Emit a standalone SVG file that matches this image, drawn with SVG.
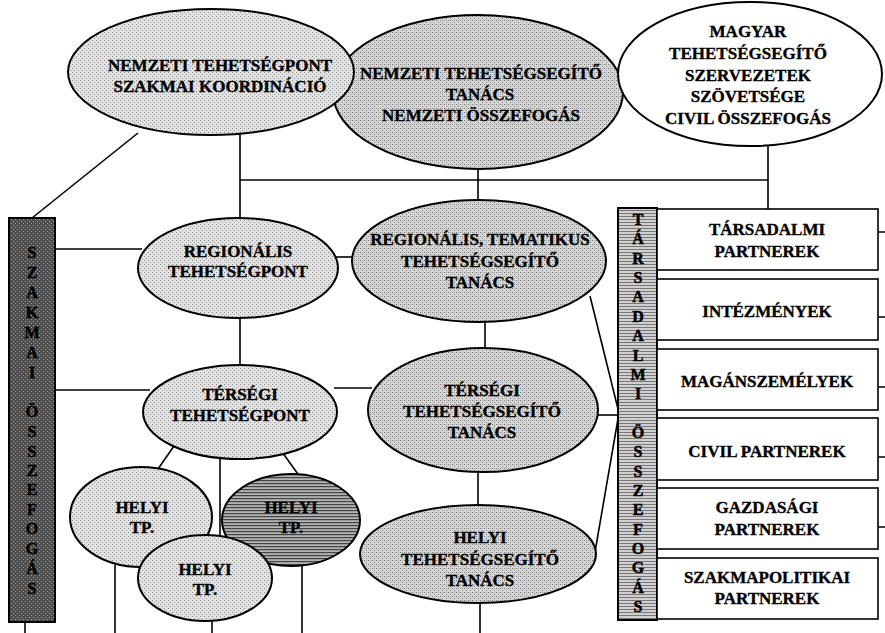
<svg xmlns="http://www.w3.org/2000/svg" width="885" height="633" viewBox="0 0 885 633">
<defs>
<pattern id="stipL" width="4" height="4" patternUnits="userSpaceOnUse"><rect width="4" height="4" fill="#e2e2e2"/><rect x="0" y="0" width="1" height="1" fill="#8a8a8a"/><rect x="2" y="2" width="1" height="1" fill="#9a9a9a"/></pattern>
<pattern id="stipD" width="4" height="4" patternUnits="userSpaceOnUse"><rect width="4" height="4" fill="#d6d6d6"/><rect x="0" y="0" width="1" height="1" fill="#777"/><rect x="2" y="2" width="1" height="1" fill="#888"/><rect x="2" y="0" width="1" height="1" fill="#aaa"/></pattern>
<pattern id="hatchD" width="4" height="3" patternUnits="userSpaceOnUse"><rect width="4" height="3" fill="#b4b4b4"/><rect x="0" y="0" width="4" height="1.2" fill="#444"/></pattern>
<pattern id="hatchBar" width="4" height="3" patternUnits="userSpaceOnUse"><rect width="4" height="3" fill="#d0d0d0"/><rect x="0" y="0" width="4" height="1" fill="#777"/></pattern>
<pattern id="darkBar" width="4" height="4" patternUnits="userSpaceOnUse"><rect width="4" height="4" fill="#4e4e4e"/><rect x="1" y="1" width="1" height="1" fill="#aaa"/><rect x="3" y="3" width="1" height="1" fill="#999"/></pattern>
</defs>
<style>
.ln{stroke:#000;stroke-width:1.6;fill:none}
.el{stroke:#000;stroke-width:2}
.bx{fill:#fff;stroke:#000;stroke-width:1.6}
text{font-family:"Liberation Serif","Times New Roman",serif;font-weight:bold;font-size:17px;text-anchor:middle;fill:#000;stroke:#000;stroke-width:0.35}
.bar text{font-size:16px;stroke-width:0.5}
</style>
<rect width="885" height="633" fill="#fff"/>
<g id="connectors">
<path class="ln" d="M240 180H768"/>
<path class="ln" d="M240 128V220"/>
<path class="ln" d="M478 160V205"/>
<path class="ln" d="M768 140V209"/>
<path class="ln" d="M138 133L32 218"/>
<path class="ln" d="M55 249H142"/>
<path class="ln" d="M334 257H356"/>
<path class="ln" d="M240 314V368"/>
<path class="ln" d="M485 318V350"/>
<path class="ln" d="M55 390H150"/>
<path class="ln" d="M334 388H372"/>
<path class="ln" d="M590 296L619 413"/>
<path class="ln" d="M594 415H619"/>
<path class="ln" d="M595 552L619 413"/>
<path class="ln" d="M478 468V508"/>
<path class="ln" d="M480 600V633"/>
<path class="ln" d="M174 446L158 469"/>
<path class="ln" d="M220 455V537"/>
<path class="ln" d="M280 449L300 477"/>
<path class="ln" d="M25 620V633"/>
<path class="ln" d="M115 565V633"/>
<path class="ln" d="M212 618V633"/>
<path class="ln" d="M302 562V633"/>
<path class="ln" d="M878 232H885M878 317H885M878 387H885M878 457H885M878 527H885"/>
</g>
<g id="nemzeti-tanacs">
<ellipse class="el" cx="478" cy="92" rx="145" ry="77" fill="url(#stipD)"/>
<text x="481" y="79">NEMZETI TEHETSÉGSEGÍTŐ</text>
<text x="480" y="100">TANÁCS</text>
<text x="481" y="121">NEMZETI ÖSSZEFOGÁS</text>
</g>
<g id="nemzeti-tehetsegpont">
<ellipse class="el" cx="211" cy="72" rx="143" ry="63" fill="url(#stipL)"/>
<text x="220" y="71">NEMZETI TEHETSÉGPONT</text>
<text x="220" y="92">SZAKMAI KOORDINÁCIÓ</text>
</g>
<g id="magyar">
<ellipse class="el" cx="750" cy="74" rx="132" ry="72" fill="#fff"/>
<text x="748" y="37">MAGYAR</text>
<text x="748" y="59">TEHETSÉGSEGÍTŐ</text>
<text x="748" y="81">SZERVEZETEK</text>
<text x="748" y="102">SZÖVETSÉGE</text>
<text x="748" y="124">CIVIL ÖSSZEFOGÁS</text>
</g>
<g id="szakmai-bar" class="bar">
<rect x="9" y="218" width="46" height="404" fill="url(#darkBar)" stroke="#000" stroke-width="2"/>
<text x="32" y="258">S</text><text x="32" y="278">Z</text><text x="32" y="298">A</text><text x="32" y="318">K</text><text x="32" y="338">M</text><text x="32" y="358">A</text><text x="32" y="378">I</text>
<text x="32" y="417">Ö</text><text x="32" y="437">S</text><text x="32" y="457">S</text><text x="32" y="476">Z</text><text x="32" y="495">E</text><text x="32" y="515">F</text><text x="32" y="534">O</text><text x="32" y="554">G</text><text x="32" y="574">Á</text><text x="32" y="594">S</text>
</g>
<g id="regionalis-tp">
<ellipse class="el" cx="238" cy="268" rx="100" ry="50" fill="url(#stipL)"/>
<text x="238" y="257">REGIONÁLIS</text>
<text x="238" y="277">TEHETSÉGPONT</text>
</g>
<g id="regionalis-tanacs">
<ellipse class="el" cx="479" cy="261" rx="127" ry="61" fill="url(#stipD)"/>
<text x="480" y="245">REGIONÁLIS, TEMATIKUS</text>
<text x="480" y="267">TEHETSÉGSEGÍTŐ</text>
<text x="480" y="288">TANÁCS</text>
</g>
<g id="tersegi-tp">
<ellipse class="el" cx="240" cy="412" rx="97" ry="47" fill="url(#stipL)"/>
<text x="240" y="400">TÉRSÉGI</text>
<text x="240" y="421">TEHETSÉGPONT</text>
</g>
<g id="tersegi-tanacs">
<ellipse class="el" cx="483" cy="410" rx="115" ry="62" fill="url(#stipD)"/>
<text x="482" y="396">TÉRSÉGI</text>
<text x="482" y="417">TEHETSÉGSEGÍTŐ</text>
<text x="482" y="438">TANÁCS</text>
</g>
<g id="helyi-tanacs">
<ellipse class="el" cx="478" cy="554" rx="118" ry="49" fill="url(#stipD)"/>
<text x="480" y="543">HELYI</text>
<text x="480" y="565">TEHETSÉGSEGÍTŐ</text>
<text x="480" y="586">TANÁCS</text>
</g>
<g id="helyi-tp-1">
<ellipse class="el" cx="141" cy="517" rx="71" ry="50" fill="url(#stipL)"/>
<text x="142" y="513">HELYI</text>
<text x="142" y="533">TP.</text>
</g>
<g id="helyi-tp-3">
<ellipse class="el" cx="291" cy="520" rx="69" ry="46" fill="url(#hatchD)"/>
<text x="291" y="513">HELYI</text>
<text x="291" y="533">TP.</text>
</g>
<g id="helyi-tp-2">
<ellipse class="el" cx="205" cy="578" rx="67" ry="43" fill="url(#stipL)"/>
<text x="205" y="575">HELYI</text>
<text x="205" y="595">TP.</text>
</g>
<g id="tarsadalmi-bar" class="bar">
<rect x="618" y="208" width="39" height="412" fill="url(#hatchBar)" stroke="#000" stroke-width="2"/>
<text x="638" y="225">T</text><text x="638" y="244">Á</text><text x="638" y="264">R</text><text x="638" y="283">S</text><text x="638" y="302">A</text><text x="638" y="322">D</text><text x="638" y="341">A</text><text x="638" y="361">L</text><text x="638" y="380">M</text><text x="638" y="399">I</text>
<text x="638" y="438">Ö</text><text x="638" y="457">S</text><text x="638" y="477">S</text><text x="638" y="496">Z</text><text x="638" y="515">E</text><text x="638" y="535">F</text><text x="638" y="554">O</text><text x="638" y="573">G</text><text x="638" y="593">Á</text><text x="638" y="612">S</text>
</g>
<g id="box-tarsadalmi"><rect class="bx" x="657" y="209" width="221" height="61"/><text x="767" y="235">TÁRSADALMI</text><text x="767" y="257">PARTNEREK</text></g>
<g id="box-intezmenyek"><rect class="bx" x="657" y="279" width="221" height="61"/><text x="767" y="317">INTÉZMÉNYEK</text></g>
<g id="box-maganszemelyek"><rect class="bx" x="657" y="349" width="221" height="61"/><text x="767" y="387">MAGÁNSZEMÉLYEK</text></g>
<g id="box-civil"><rect class="bx" x="657" y="418" width="221" height="62"/><text x="767" y="457">CIVIL PARTNEREK</text></g>
<g id="box-gazdasagi"><rect class="bx" x="657" y="488" width="221" height="61"/><text x="767" y="513">GAZDASÁGI</text><text x="767" y="535">PARTNEREK</text></g>
<g id="box-szakmapolitikai"><rect class="bx" x="657" y="558" width="221" height="61"/><text x="767" y="583">SZAKMAPOLITIKAI</text><text x="767" y="604">PARTNEREK</text></g>
</svg>
